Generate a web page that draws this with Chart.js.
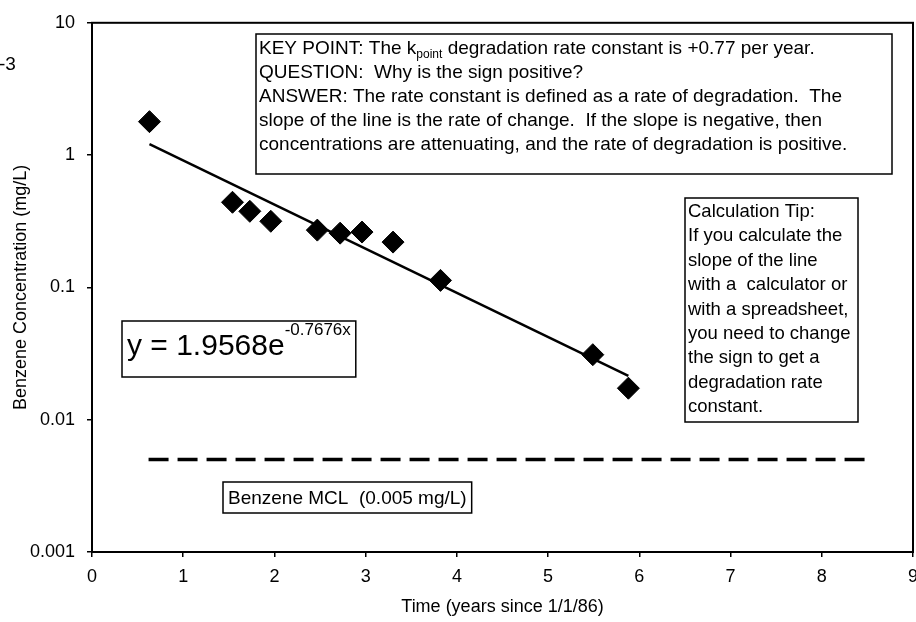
<!DOCTYPE html>
<html>
<head>
<meta charset="utf-8">
<script src="https://cdn.jsdelivr.net/npm/chart.js@4.4.1/dist/chart.umd.min.js"></script>
<style>
html, body { margin: 0; padding: 0; background: #fff; }
</style>
</head>
<body>
<canvas id="myChart" width="916" height="622"></canvas>
<script>
// sample points (years since 1/1/86, mg/L)
let timeValues = [0.63, 1.54, 1.73, 1.96, 2.47, 2.72, 2.96, 3.30, 3.82, 5.49, 5.88];
let benzeneValues = [1.79, 0.44, 0.376, 0.316, 0.271, 0.257, 0.262, 0.22, 0.113, 0.031, 0.0173];

// exponential trendline, end points as drawn
let trendX = [0.63, 5.88];
let trendY = [1.21, 0.0214];

// MCL line
let mclX = [0.62, 8.5];
let mclY = [0.005, 0.005];

let xTicks = [0, 1, 2, 3, 4, 5, 6, 7, 8, 9];
let yTicks = [0.001, 0.01, 0.1, 1, 10];

const FONT = '"Liberation Sans", Arial, sans-serif';

function toPoints(xs, ys) {
    let pts = [];
    for (let i = 0; i < xs.length; i++) {
        pts.push({x: xs[i], y: ys[i]});
    }
    return pts;
}

// draws a list of [text, size, dy] pieces one after another
function drawPieces(ctx, pieces, x, y, sx) {
    let cx = x;
    for (let p of pieces) {
        ctx.font = p[1] + 'px ' + FONT;
        ctx.save();
        ctx.translate(cx, y + (p[2] || 0));
        ctx.scale(sx, 1);
        ctx.fillText(p[0], 0, 0);
        ctx.restore();
        cx += ctx.measureText(p[0]).width * sx;
    }
    return cx;
}

function box(ctx, x, y, w, h) {
    ctx.fillStyle = '#fff';
    ctx.fillRect(x, y, w, h);
    ctx.strokeStyle = '#000';
    ctx.lineWidth = 1.5;
    ctx.strokeRect(x, y, w, h);
    ctx.fillStyle = '#000';
}

const notes = {
    id: 'notes',
    beforeDatasetsDraw(chart) {
        const ctx = chart.ctx;
        const a = chart.chartArea;
        ctx.save();
        ctx.strokeStyle = '#000';
        ctx.lineWidth = 2;
        ctx.strokeRect(a.left, a.top, a.right - a.left, a.bottom - a.top);
        ctx.restore();
    },
    afterDraw(chart) {
        const ctx = chart.ctx;
        ctx.save();
        ctx.textBaseline = 'alphabetic';
        ctx.textAlign = 'left';

        // cut off figure number at the left edge
        ctx.fillStyle = '#000';
        drawPieces(ctx, [['-3', 19]], -1, 70, 1);

        // key point box
        box(ctx, 256, 34, 636, 140);
        let kp = [
            [['KEY POINT: The k', 19], ['point', 12, 4], [' degradation rate constant is +0.77 per year.', 19]],
            [['QUESTION:  Why is the sign positive?', 19]],
            [['ANSWER: The rate constant is defined as a rate of degradation.  The', 19]],
            [['slope of the line is the rate of change.  If the slope is negative, then', 19]],
            [['concentrations are attenuating, and the rate of degradation is positive.', 19]]
        ];
        for (let i = 0; i < kp.length; i++) {
            drawPieces(ctx, kp[i], 259, 54 + i * 24, 1);
        }

        // calculation tip box
        box(ctx, 685, 198, 173, 224);
        let tip = ['Calculation Tip:', 'If you calculate the', 'slope of the line',
            'with a  calculator or', 'with a spreadsheet,', 'you need to change',
            'the sign to get a', 'degradation rate', 'constant.'];
        for (let i = 0; i < tip.length; i++) {
            drawPieces(ctx, [[tip[i], 18.5]], 688, 217 + i * 24.4, 1);
        }

        // trendline equation
        ctx.font = '30px ' + FONT;
        let w1 = ctx.measureText('y = 1.9568e').width;
        ctx.font = '17px ' + FONT;
        let w2 = ctx.measureText('-0.7676x').width;
        box(ctx, 122, 321, w1 + w2 + 10, 56);
        drawPieces(ctx, [['y = 1.9568e', 30], ['-0.7676x', 17, -20]], 127, 355, 1);

        // MCL label
        ctx.font = '19px ' + FONT;
        let w3 = ctx.measureText('Benzene MCL  (0.005 mg/L)').width;
        box(ctx, 223, 482, w3 + 10, 31);
        drawPieces(ctx, [['Benzene MCL  (0.005 mg/L)', 19]], 228, 504, 1);

        ctx.restore();
    }
};

const myChart = new Chart('myChart', {
    type: 'scatter',
    data: {
        datasets: [{
            data: toPoints(timeValues, benzeneValues),
            pointStyle: 'rectRot',
            pointRadius: 11,
            backgroundColor: '#000',
            borderColor: '#000',
            borderWidth: 1,
            showLine: false
        }, {
            data: toPoints(trendX, trendY),
            showLine: true,
            borderColor: '#000',
            borderWidth: 2.5,
            pointRadius: 0
        }, {
            data: toPoints(mclX, mclY),
            showLine: true,
            borderColor: '#000',
            borderWidth: 3.5,
            borderDash: [20, 9],
            pointRadius: 0
        }]
    },
    options: {
        responsive: false,
        animation: false,
        events: [],
        layout: { autoPadding: false, padding: { top: 17, right: 3, left: 0, bottom: 0 } },
        plugins: { legend: { display: false }, tooltip: { enabled: false } },
        scales: {
            x: {
                type: 'linear',
                min: 0,
                max: 9,
                afterBuildTicks: (scale) => { scale.ticks = xTicks.map(v => ({value: v})); },
                afterFit: (scale) => { scale.height = 70; scale.paddingLeft = 0; scale.paddingRight = 0; },
                ticks: { color: '#000', font: { family: FONT, size: 18 }, padding: 9, maxRotation: 0 },
                grid: { drawOnChartArea: false, color: '#000', lineWidth: 1.5, tickLength: 5 },
                border: { display: false },
                title: { display: true, text: 'Time (years since 1/1/86)', color: '#000',
                         font: { family: FONT, size: 18 }, padding: { top: 4, bottom: 4 } }
            },
            y: {
                type: 'logarithmic',
                min: 0.001,
                max: 10,
                afterBuildTicks: (scale) => { scale.ticks = yTicks.map(v => ({value: v})); },
                afterFit: (scale) => { scale.width = 92; },
                ticks: { color: '#000', font: { family: FONT, size: 18 }, padding: 12,
                         callback: (v) => String(v) },
                grid: { drawOnChartArea: false, color: '#000', lineWidth: 1.5, tickLength: 5 },
                border: { display: false },
                title: { display: true, text: 'Benzene Concentration (mg/L)', color: '#000',
                         font: { family: FONT, size: 18 }, padding: { top: 10, bottom: 0 } }
            }
        }
    },
    plugins: [notes]
});
</script>
</body>
</html>
